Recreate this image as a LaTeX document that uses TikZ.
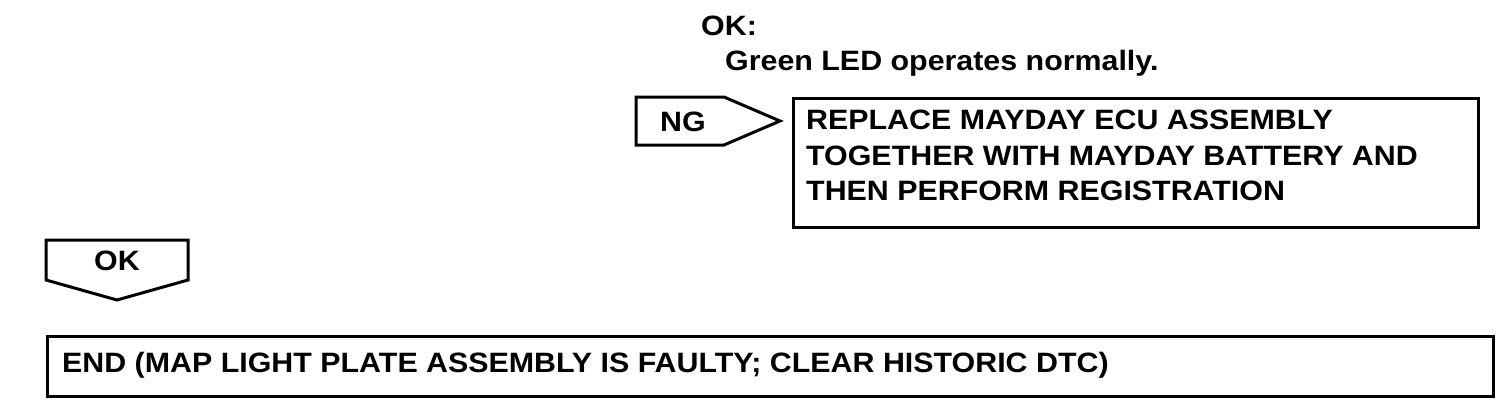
\documentclass[tikz,border=0pt]{standalone}
\usepackage{fontspec}
\setmainfont[FakeStretch=1.085]{Liberation Sans}
\begin{document}
\begin{tikzpicture}[x=1pt,y=-1pt,
  txt/.style={font=\bfseries\fontsize{28}{35.5}\selectfont, inner sep=0pt, align=left},
  outline/.style={draw, line width=3pt, line join=miter}]
\useasboundingbox (0,0) rectangle (1504,418);
% top note
\node[txt, anchor=base west] (oknote) at (701,35) {OK:};
\node[txt, anchor=base west] (green) at (725,70) {Green LED operates normally.};
% NG arrow
\draw[outline] (636,97) -- (724,97) -- (780,121) -- (724,145) -- (636,145) -- cycle;
\node[txt, anchor=base] (ng) at (683,131) {NG};
% replace box
\node[outline, minimum width=685pt, minimum height=129pt, anchor=north west, inner sep=0pt] (repbox) at (792,97) {};
\node[txt, anchor=north west] (rep) at (806,110) {REPLACE MAYDAY ECU ASSEMBLY\\TOGETHER WITH MAYDAY BATTERY AND\\THEN PERFORM REGISTRATION};
% OK arrow
\draw[outline] (46,240) -- (188,240) -- (188,280) -- (117,300) -- (46,280) -- cycle;
\node[txt, anchor=base] (ok) at (117,270) {OK};
% end box
\node[outline, minimum width=1446pt, minimum height=60pt, anchor=north west, inner sep=0pt] (endbox) at (46,335) {};
\node[txt, anchor=base west] (endt) at (62,372) {END (MAP LIGHT PLATE ASSEMBLY IS FAULTY; CLEAR HISTORIC DTC)};
\end{tikzpicture}
\end{document}
